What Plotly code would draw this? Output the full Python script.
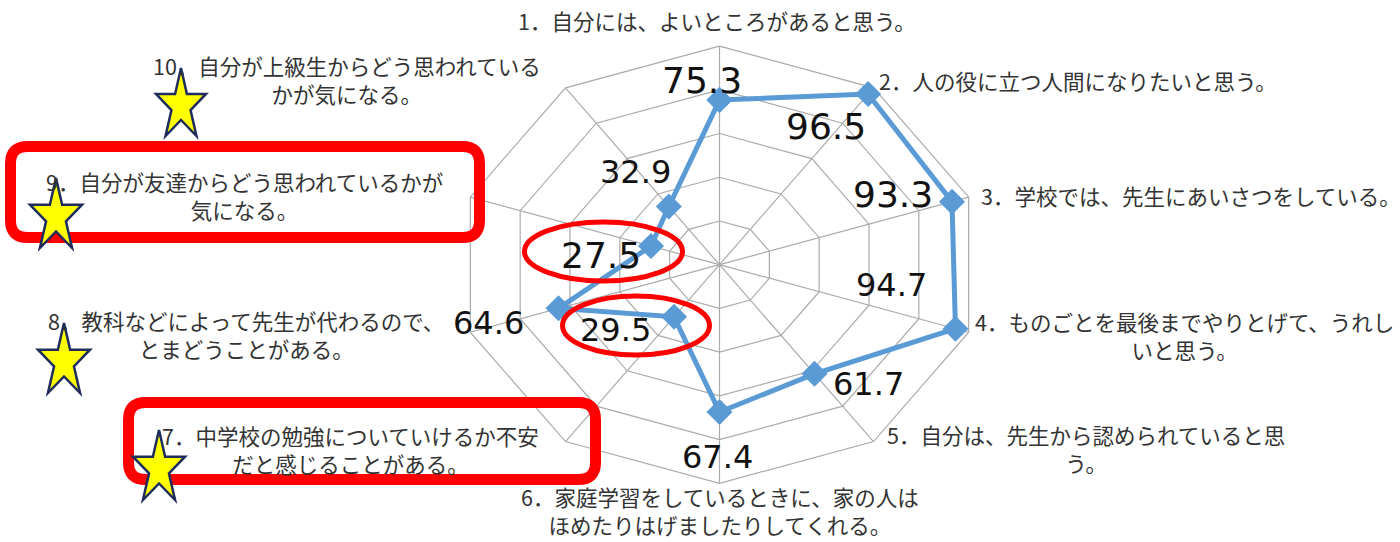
import numpy as np
import plotly.graph_objects as go

# ---------------- data ----------------
categories = [
    "1．自分には、よいところがあると思う。",
    "2．人の役に立つ人間になりたいと思う。",
    "3．学校では、先生にあいさつをしている。",
    "4．ものごとを最後までやりとげて、うれし<br>いと思う。",
    "5．自分は、先生から認められていると思<br>う。",
    "6．家庭学習をしているときに、家の人は<br>ほめたりはげましたりしてくれる。",
    "7．中学校の勉強についていけるか不安<br>だと感じることがある。",
    "8．教科などによって先生が代わるので、<br>とまどうことがある。",
    "9．自分が友達からどう思われているかが<br>気になる。",
    "10．自分が上級生からどう思われている<br>かが気になる。",
]
values = [75.3, 96.5, 93.3, 94.7, 61.7, 67.4, 29.5, 64.6, 27.5, 32.9]
ring_levels = [20, 40, 60, 80, 100]

# ---------------- layout / style (pixels) ----------------
W, H = 1400, 542
CX, CY = 719.5, 264.7          # chart centre in pixels
PX_PER_X, PX_PER_Y = 2.62, 2.186  # pixels per value unit (chart is stretched horizontally)

def px2paper(px, py):
    return px / W, 1 - py / H

n = len(values)
theta = np.arange(n) * 2 * np.pi / n
sin_t, cos_t = np.sin(theta), np.cos(theta)

fig = go.Figure()

# grid rings and spokes
gx, gy = [], []
for lv in ring_levels:
    gx += list(lv * sin_t) + [lv * sin_t[0], None]
    gy += list(lv * cos_t) + [lv * cos_t[0], None]
rmax = max(ring_levels)
for k in range(n):
    gx += [0, rmax * sin_t[k], None]
    gy += [0, rmax * cos_t[k], None]
fig.add_trace(go.Scatter(x=gx, y=gy, mode="lines",
                         line=dict(color="#ABABAB", width=1.2),
                         hoverinfo="skip", showlegend=False))

# series
vx = [v * s for v, s in zip(values, sin_t)]
vy = [v * c for v, c in zip(values, cos_t)]
fig.add_trace(go.Scatter(x=vx + [vx[0]], y=vy + [vy[0]], mode="lines+markers",
                         line=dict(color="#5B9BD5", width=5),
                         marker=dict(symbol="diamond", size=20, color="#5B9BD5"),
                         hoverinfo="skip", showlegend=False))

# data labels (pixel offsets from each point)
label_offsets = [(-18, -20), (-42, 32), (-59, -7), (-64, -44), (54, 10),
                 (-2, 45), (-59, 13), (-70, 15), (-50, 9), (-33, -35)]
label_sizes = [36, 36, 36, 32, 32, 32, 32, 32, 36, 32]
for v, x, y, (dx, dy), fs in zip(values, vx, vy, label_offsets, label_sizes):
    fig.add_annotation(x=x, y=y, xref="x", yref="y", text=f"{v:.1f}",
                       showarrow=False, xshift=dx, yshift=-dy,
                       xanchor="center", yanchor="middle",
                       font=dict(family="DejaVu Sans", size=fs, color="#111111"))

# category labels (pixel positions, anchors)
cat_pos = [
    (716.5, 20.5, "center", "middle"),
    (877, 80.5, "left", "middle"),
    (979, 195, "left", "middle"),
    (1184, 335, "center", "middle"),
    (1086, 448.5, "center", "middle"),
    (719.5, 542, "center", "bottom"),
    (350, 449, "center", "middle"),
    (246, 334, "center", "middle"),
    (245, 195, "center", "middle"),
    (347, 79, "center", "middle"),
]
for txt, (px, py, xa, ya) in zip(categories, cat_pos):
    X, Y = px2paper(px, py)
    fig.add_annotation(x=X, y=Y, xref="paper", yref="paper", text=txt,
                       showarrow=False, xanchor=xa, yanchor=ya, align="center",
                       font=dict(family="Noto Sans CJK JP", size=21.5, color="#333333"))

# ---------------- decorations ----------------
def rounded_rect(x0, y0, x1, y1, r):
    def P(px, py):
        X, Y = px2paper(px, py)
        return f"{X:.5f},{Y:.5f}"
    d = (f"M {P(x0 + r, y0)} L {P(x1 - r, y0)} Q {P(x1, y0)} {P(x1, y0 + r)} "
         f"L {P(x1, y1 - r)} Q {P(x1, y1)} {P(x1 - r, y1)} "
         f"L {P(x0 + r, y1)} Q {P(x0, y1)} {P(x0, y1 - r)} "
         f"L {P(x0, y0 + r)} Q {P(x0, y0)} {P(x0 + r, y0)} Z")
    return d

red_boxes = [(10.5, 146.5, 479.5, 237.5), (128.5, 402.5, 595.5, 479.5)]
for b in red_boxes:
    fig.add_shape(type="path", path=rounded_rect(*b, 17), xref="paper", yref="paper",
                  line=dict(color="#FF0000", width=11), layer="above")

red_ellipses = [(524.5, 222, 682.5, 281), (562.5, 296, 709.5, 355)]
for (x0, y0, x1, y1) in red_ellipses:
    X0, Y0 = px2paper(x0, y0)
    X1, Y1 = px2paper(x1, y1)
    fig.add_shape(type="circle", x0=X0, y0=Y1, x1=X1, y1=Y0, xref="paper", yref="paper",
                  line=dict(color="#FF0000", width=5), layer="above")

def star_path(left, top, w, h, rin=0.382):
    pts = []
    for i in range(10):
        ang = np.pi / 2 + i * np.pi / 5
        r = 1.0 if i % 2 == 0 else rin
        nx, ny = r * np.cos(ang), r * np.sin(ang)
        px = left + (nx + 0.9511) / 1.9022 * w
        py = top + (1 - ny) / 1.809 * h
        X, Y = px2paper(px, py)
        pts.append(f"{X:.5f},{Y:.5f}")
    return "M " + " L ".join(pts) + " Z"

stars = [(156, 68, 50, 68), (30, 178, 52, 70), (38, 323, 52, 70), (133, 430, 52, 70)]
for s in stars:
    fig.add_shape(type="path", path=star_path(*s), xref="paper", yref="paper",
                  fillcolor="#FFFF00", line=dict(color="#1F2D5C", width=2.5), layer="above")

fig.update_xaxes(range=[-CX / PX_PER_X, (W - CX) / PX_PER_X], visible=False,
                 showgrid=False, zeroline=False, fixedrange=True)
fig.update_yaxes(range=[-(H - CY) / PX_PER_Y, CY / PX_PER_Y], visible=False,
                 showgrid=False, zeroline=False, fixedrange=True)
fig.update_layout(width=W, height=H, margin=dict(l=0, r=0, t=0, b=0, pad=0),
                  paper_bgcolor="white", plot_bgcolor="white", showlegend=False)

fig.write_html("out.html")
